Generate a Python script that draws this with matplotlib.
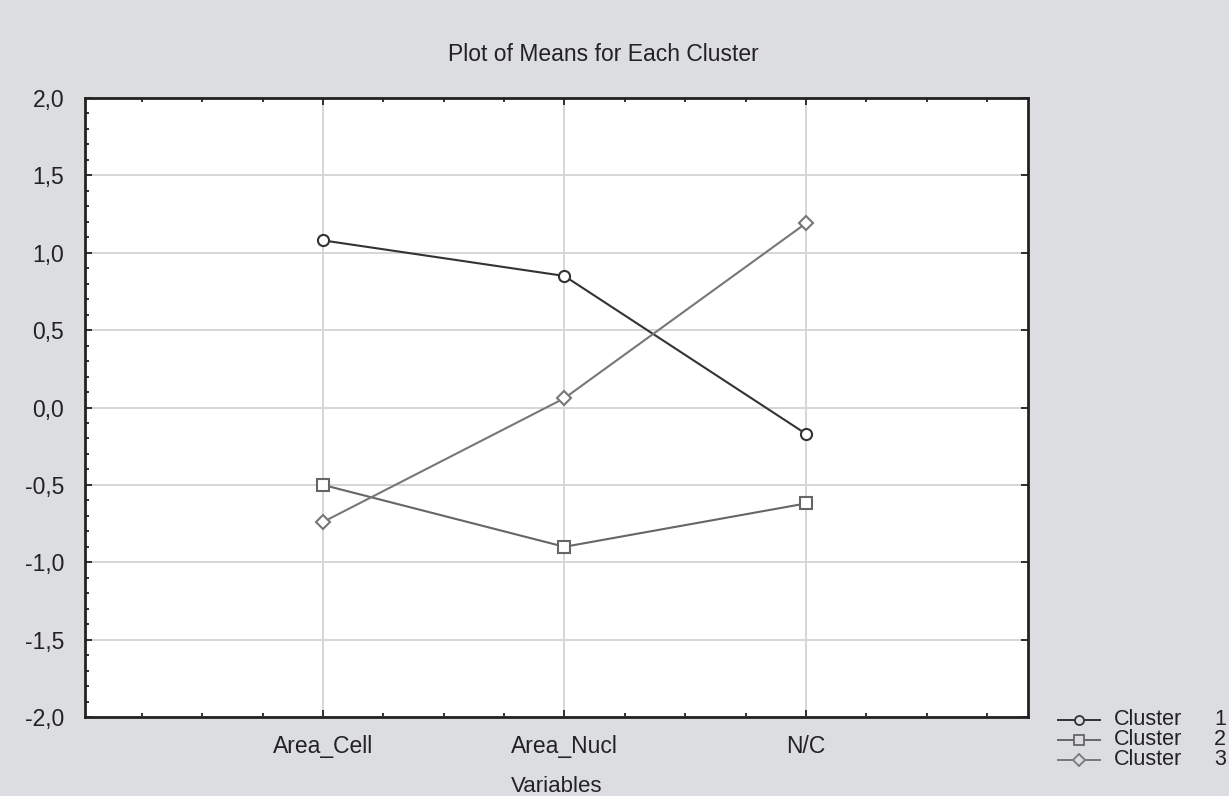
import matplotlib.pyplot as plt
from matplotlib.lines import Line2D
from matplotlib.ticker import MultipleLocator, FuncFormatter

plt.rcParams["font.family"] = ["Liberation Sans", "DejaVu Sans"]

variables = ["Area_Cell", "Area_Nucl", "N/C"]
cluster_1 = [1.08, 0.85, -0.17]
cluster_2 = [-0.50, -0.90, -0.62]
cluster_3 = [-0.74, 0.06, 1.19]
cluster_names = ["Cluster", "Cluster", "Cluster"]
cluster_ids = ["1", "2", "3"]

BG = "#dcdde0"
TXT = "#222222"
styles = [
    dict(color="#333333", marker="o"),
    dict(color="#666666", marker="s"),
    dict(color="#777777", marker="D"),
]

fig = plt.figure(figsize=(12.29, 7.96), dpi=100, facecolor=BG)
ax = fig.add_axes([0.0692, 0.0992, 0.7673, 0.7777])

xs = [1, 2, 3]
for vals, st in zip([cluster_1, cluster_2, cluster_3], styles):
    ms = 7 if st["marker"] == "D" else 8
    ax.plot(xs, vals, color=st["color"], lw=1.5, marker=st["marker"],
            markersize=ms, markerfacecolor="white", markeredgecolor=st["color"],
            markeredgewidth=1.5, zorder=3)

ax.set_xlim(0.015, 3.92)
ax.set_ylim(-2.0, 2.0)
ax.set_xticks(xs)
ax.set_xticklabels(variables)
ax.xaxis.set_minor_locator(MultipleLocator(0.25))
ax.yaxis.set_major_locator(MultipleLocator(0.5))
ax.yaxis.set_minor_locator(MultipleLocator(0.1))
ax.yaxis.set_major_formatter(FuncFormatter(lambda v, p: f"{v:.1f}".replace(".", ",")))
ax.grid(True, which="major", color="#d6d6d6", lw=1.4, zorder=0)
ax.tick_params(which="both", direction="in", top=True, right=True,
               labelsize=16.5, colors=TXT, width=1.3)
ax.tick_params(which="minor", right=False, length=3)
ax.tick_params(axis="y", which="major", length=5, pad=15)
ax.tick_params(axis="x", which="major", length=5, pad=13)
for sp in ax.spines.values():
    sp.set_linewidth(2.0)
    sp.set_color(TXT)

ax.set_xlabel("Variables", fontsize=16, color=TXT, labelpad=13)
fig.text(0.491, 0.932, "Plot of Means for Each Cluster", ha="center", va="center",
         fontsize=16.5, color=TXT)

# legend drawn by hand at bottom right
ys = [0.0955, 0.0705, 0.0455]
for name, cid, st, y in zip(cluster_names, cluster_ids, styles, ys):
    ms = 6 if st["marker"] == "D" else 6.5
    fig.add_artist(Line2D([0.861, 0.895], [y, y], transform=fig.transFigure,
                          color=st["color"], lw=1.4))
    fig.add_artist(Line2D([0.878], [y], transform=fig.transFigure, marker=st["marker"],
                          markersize=ms, markerfacecolor=BG, markeredgecolor=st["color"],
                          markeredgewidth=1.3, color=st["color"]))
    fig.text(0.906, y, name, ha="left", va="center", fontsize=15.5, color=TXT)
    fig.text(0.9975, y, cid, ha="right", va="center", fontsize=15.5, color=TXT)

fig.savefig("out.png", dpi=100, facecolor=BG)
